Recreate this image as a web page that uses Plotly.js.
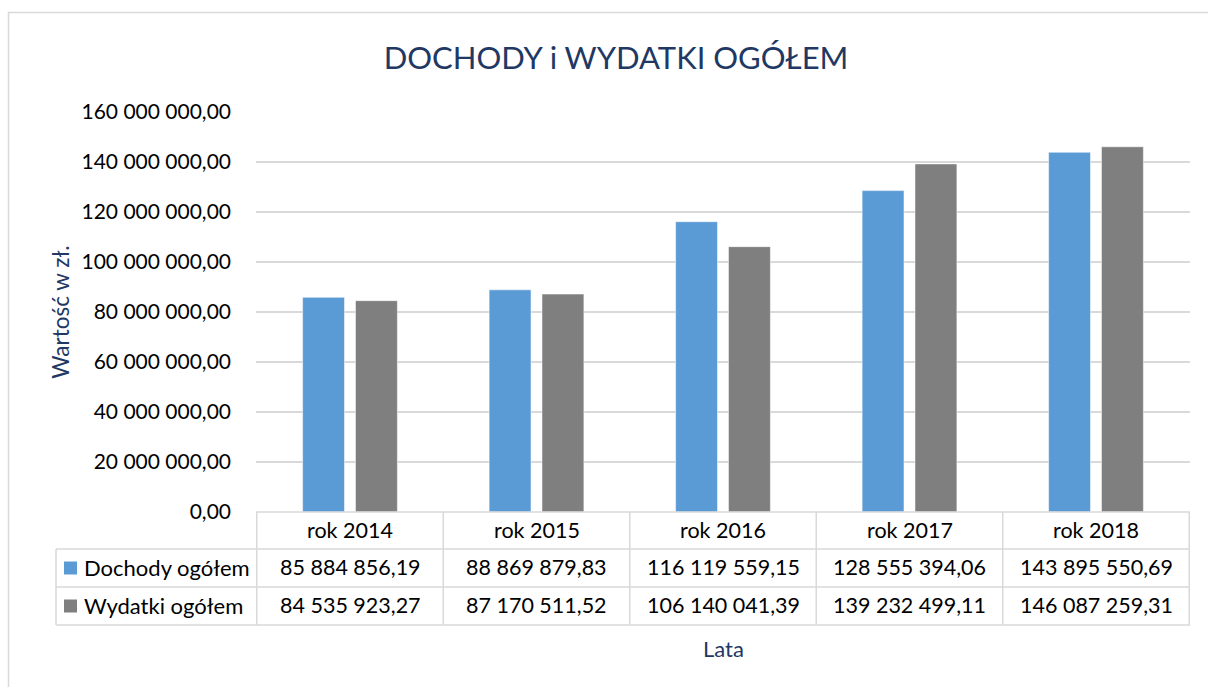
<!DOCTYPE html>
<html>
<head>
<meta charset="utf-8">
<script src="https://cdn.plot.ly/plotly-3.0.1.min.js"></script>
<style>
html,body{margin:0;padding:0;background:#fff;}
#chart{width:1208px;height:687px;}
</style>
</head>
<body>
<div id="chart"></div>
<script>
const categories = ["rok 2014", "rok 2015", "rok 2016", "rok 2017", "rok 2018"];
const dochody = [85884856.19, 88869879.83, 116119559.15, 128555394.06, 143895550.69];
const wydatki = [84535923.27, 87170511.52, 106140041.39, 139232499.11, 146087259.31];
const seriesNames = ["Dochody ogółem", "Wydatki ogółem"];
const seriesColors = ["#5B9BD5", "#7F7F7F"];
const titleText = "DOCHODY i WYDATKI OGÓŁEM";
const yTitle = "Wartość w zł.";
const xTitle = "Lata";

const FONT = "Lato, 'Open Sans', sans-serif";
const NAVY = "#1F3864";
const GRID = "#D9D9D9";

function fmt(v) {
  const parts = v.toFixed(2).split(".");
  const intPart = parts[0].replace(/\B(?=(\d{3})+(?!\d))/g, " ");
  return intPart + "," + parts[1];
}

// geometry (pixels) of plot area
const W = 1208, H = 687;
const L = 256, R = 1190, T = 112, B = 512;
const pw = R - L, ph = B - T;
const px = x => (x - L) / pw;      // pixel -> paper x
const py = y => (B - y) / ph;      // pixel -> paper y

const rowTop = [512, 549, 587];
const rowBot = [549, 587, 625];
const tableLeft = 56;
const TXT = 21.5;

const traces = [
  {type: "bar", name: seriesNames[0], x: categories, y: dochody,
   marker: {color: seriesColors[0], line: {color: "rgba(255,255,255,0.5)", width: 1}},
   hoverinfo: "x+y"},
  {type: "bar", name: seriesNames[1], x: categories, y: wydatki,
   marker: {color: seriesColors[1], line: {color: "rgba(255,255,255,0.5)", width: 1}},
   hoverinfo: "x+y"}
];

const shapes = [];
const annotations = [];

// outer chart border
shapes.push({type: "rect", xref: "paper", yref: "paper",
  x0: px(8.5), x1: px(1240), y0: py(12.5), y1: py(720),
  line: {color: GRID, width: 1.5}, fillcolor: "rgba(0,0,0,0)", layer: "below"});

// table horizontal lines
shapes.push({type: "line", xref: "paper", yref: "paper", x0: 0, x1: 1, y0: py(rowTop[0]), y1: py(rowTop[0]), line: {color: GRID, width: 1.5}});
[rowBot[0], rowBot[1], rowBot[2]].forEach(y => {
  shapes.push({type: "line", xref: "paper", yref: "paper", x0: px(tableLeft), x1: 1, y0: py(y), y1: py(y), line: {color: GRID, width: 1.5}});
});
// vertical lines: left edge of label column
shapes.push({type: "line", xref: "paper", yref: "paper", x0: px(tableLeft), x1: px(tableLeft), y0: py(rowTop[1]), y1: py(rowBot[2]), line: {color: GRID, width: 1.5}});
// category boundaries
for (let i = 0; i <= categories.length; i++) {
  shapes.push({type: "line", xref: "x", yref: "paper", x0: i - 0.5, x1: i - 0.5,
    y0: py(rowTop[0]), y1: py(rowBot[2]), line: {color: GRID, width: 1.5}});
}

// header row: categories
categories.forEach((c, i) => {
  annotations.push({xref: "x", yref: "paper", x: i, y: py((rowTop[0] + rowBot[0]) / 2 - 1),
    text: c, showarrow: false, font: {family: FONT, size: TXT, color: "#000"}, xanchor: "center", yanchor: "middle"});
});

const seriesVals = [dochody, wydatki];
seriesVals.forEach((vals, s) => {
  const r = s + 1;
  const yc = (rowTop[r] + rowBot[r]) / 2;
  // legend key
  shapes.push({type: "rect", xref: "paper", yref: "paper",
    x0: px(64), x1: px(77), y0: py(yc - 6.5), y1: py(yc + 6.5),
    fillcolor: seriesColors[s], line: {width: 0}});
  annotations.push({xref: "paper", yref: "paper", x: px(82), y: py(yc - 1),
    text: seriesNames[s], showarrow: false, font: {family: FONT, size: TXT + 0.5, color: "#000"},
    xanchor: "left", yanchor: "middle"});
  vals.forEach((v, i) => {
    annotations.push({xref: "x", yref: "paper", x: i, y: py(yc - 1),
      text: fmt(v), showarrow: false, font: {family: FONT, size: TXT, color: "#000"},
      xanchor: "center", yanchor: "middle"});
  });
});

// x axis title
annotations.push({xref: "paper", yref: "paper", x: 0.5, y: py(648),
  text: xTitle, showarrow: false, font: {family: FONT, size: 22, color: NAVY},
  xanchor: "center", yanchor: "middle"});

const layout = {
  width: W, height: H,
  margin: {l: L, r: W - R, t: T, b: H - B, pad: 0},
  paper_bgcolor: "#fff", plot_bgcolor: "#fff",
  separators: ", ",
  font: {family: FONT, size: TXT, color: "#000"},
  title: {text: titleText, font: {family: FONT, size: 31, color: NAVY},
    xref: "container", yref: "container", x: 616 / W, xanchor: "center",
    y: 1 - 58 / H, yanchor: "middle"},
  showlegend: false,
  barmode: "group",
  bargap: 0.433,
  bargroupgap: 0.2075,
  xaxis: {type: "category", showticklabels: false, showgrid: false, zeroline: false,
    showline: false, ticks: "", fixedrange: true},
  yaxis: {range: [0, 160000000], dtick: 20000000, tickformat: ",.2f",
    showgrid: true, gridcolor: GRID, gridwidth: 1.5, zeroline: false, showline: false,
    ticks: "", ticklabelstandoff: 24,
    tickfont: {family: FONT, size: 21, color: "#000"},
    title: {text: yTitle, font: {family: FONT, size: 22.5, color: NAVY}, standoff: 5},
    automargin: false, fixedrange: true},
  shapes: shapes,
  annotations: annotations
};

Plotly.newPlot("chart", traces, layout, {displayModeBar: false, staticPlot: true});
</script>
</body>
</html>
